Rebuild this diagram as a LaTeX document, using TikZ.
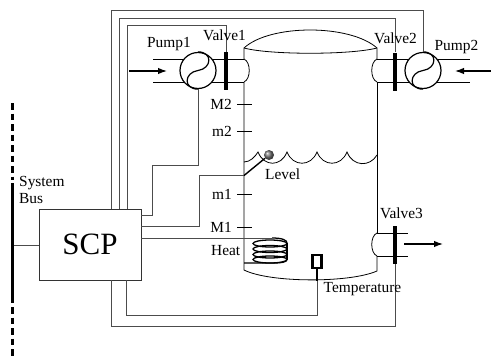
\documentclass[tikz,border=0pt]{standalone}
\usepackage{fontspec}
\setmainfont{Liberation Serif}
\usetikzlibrary{positioning,arrows.meta}

\begin{document}
\begin{tikzpicture}[x=1pt, y=-1pt, font=\fontsize{15.4}{15.4}\selectfont]
	\tikzset{>={Latex[length=9pt,width=6.5pt]}}
	\tikzset{wire/.style={draw=black!70, line width=0.9pt}}
	\tikzset{tube/.style={draw=black, line width=0.8pt}}
	\tikzset{flow/.style={->, draw=black, line width=1.3pt}}
	\tikzset{lbl/.style={inner sep=0pt}}
	\tikzset{pump/.style={circle, draw=black, line width=1.2pt, fill=white, minimum size=36pt, inner sep=0pt}}
	\tikzset{valve/.style={rectangle, fill=black, minimum width=3.5pt, minimum height=38pt, inner sep=0pt}}
	\useasboundingbox (0,0) rectangle (491,356);

	% tank
	\draw[tube] (244,59) -- (244,48) .. controls (270,24) and (350,24) .. (377,48) -- (377,59);
	\draw[tube] (244,48) .. controls (270,55) and (350,55) .. (377,48);
	\draw[tube] (244,82) -- (244,270) .. controls (270,283) and (350,283) .. (377,271) -- (377,256);
	\draw[tube] (377,82) -- (377,233);
	\draw[tube] (244,59) .. controls (251,62) and (251,79) .. (244,82);
	\draw[tube] (377,59) .. controls (370,62) and (370,79) .. (377,82);
	\draw[tube] (377,233) .. controls (370,236) and (370,253) .. (377,256);

	% water
	\draw[tube] (244,162) .. controls (250,162) and (255,157) .. (258,152)
		.. controls (264,167) and (281,167) .. (287,152)
		.. controls (293,167) and (311,167) .. (317,152)
		.. controls (323,167) and (341,167) .. (347,152)
		.. controls (353,167) and (370,167) .. (377,155);

	% pipes
	\draw[tube] (153,59) -- (244,59);
	\draw[tube] (153,82) -- (244,82);
	\draw[tube] (377,59) -- (470,59);
	\draw[tube] (377,82) -- (470,82);
	\draw[tube] (377,233) -- (408,233);
	\draw[tube] (377,256) -- (408,256);

	\node[rectangle, draw=black!80, line width=0.9pt, minimum width=102pt, minimum height=71pt, inner sep=0pt] (scp) at (90,244.5) {\fontsize{31}{31}\selectfont SCP};
	\node[pump] (pump1) at (198,70.5) {};
	\node[pump] (pump2) at (423,70.5) {};
	\node[valve] (valve1) at (226,71) {};
	\node[valve] (valve2) at (395,71.5) {};
	\node[valve] (valve3) at (395,245) {};
	\node[circle, minimum size=10pt, inner sep=0pt, ball color=black!55] (level) at (269,155) {};
	\node[rectangle, draw=black, line width=2.6pt, fill=white, minimum width=9.3pt, minimum height=12.9pt, inner sep=0pt] (sensor) at (317,261.5) {};

	\foreach \p in {pump1,pump2}
		\draw[line width=1.2pt] (\p.north) .. controls ([shift={(15,0)}]\p.north) and ([shift={(14,-2)}]\p.center) .. (\p.center)
			.. controls ([shift={(-14,2)}]\p.center) and ([shift={(-15,0)}]\p.south) .. (\p.south);

	% ports
	\coordinate (scpa) at (111,209);
	\coordinate (scpb) at (119,209);
	\coordinate (scpc) at (127,209);
	\coordinate (scpd) at (141,215);
	\coordinate (scpe) at (141,226);
	\coordinate (scpf) at (141,238);
	\coordinate (scpg) at (126,280);
	\coordinate (scph) at (111,280);
	\coordinate (joint) at (244,175.5);
	\coordinate (coilin) at (272,238);
	\coordinate (coilout) at (244,263);
	\coordinate (bustap) at (13,245.5);

	\draw[wire] (scpa) |- (423,10) -- (pump2.north);
	\draw[wire] (scpb) |- (395,18) -- (valve2.north);
	\draw[wire] (scpc) |- (226,25) -- (valve1.north);
	\draw[wire] (pump1.south) |- (152.5,165.5) |- (scpd);
	\draw[wire] (scpe) -| (199,175.5) -- (joint);
	\draw[wire] (scpf) -- (coilin);
	\draw[wire] (scpg) |- (317,315.5) -- (sensor.south);
	\draw[wire] (scph) |- (395,326) -- (valve3.south);
	\draw[wire] (scp.west |- bustap) -- (bustap);
	\draw[line width=1.4pt] (joint) -- (level);
	\draw[line width=2.8pt] (sensor.south) -- (317,281);

	% coil
	\draw[line width=1.3pt] (coilin) .. controls (282,238) and (287,240) .. (287,243);
	\foreach \y in {243.5,249,254.5,259.5}
		\draw[line width=1.3pt] (270,\y) ellipse (17pt and 3.5pt);
	\draw[line width=1.3pt] (coilout) -- (272,263) .. controls (282,263) and (287,262) .. (287,259.5);
	\draw[line width=1.3pt] (287,243) -- (287,259.5);

	% bus
	\draw[line width=3.8pt] (12.5,183) -- (12.5,302.5);
	\draw[line width=3.8pt, dash pattern=on 6.5pt off 4pt] (12.5,103) -- (12.5,180);
	\draw[line width=3.8pt, dash pattern=on 6.5pt off 4pt] (12.5,307) -- (12.5,356);

	% flow arrows
	\coordinate (in1a) at (129,71);
	\coordinate (in1b) at (167,71);
	\coordinate (in2a) at (491,71);
	\coordinate (in2b) at (455,71);
	\coordinate (out3a) at (404,244);
	\coordinate (out3b) at (443,244);
	\draw[flow] (in1a) -- (in1b);
	\draw[flow] (in2a) -- (in2b);
	\draw[flow] (out3a) -- (out3b);

	\node[lbl] (lpump1) at (169,44) {Pump1};
	\node[lbl] (lvalve1) at (224.5,35) {Valve1};
	\node[lbl] (lvalve2) at (395.5,38) {Valve2};
	\node[lbl] (lpump2) at (456.5,47) {Pump2};
	\node[lbl, anchor=east] (lM2) at (232,104) {M2};
	\node[lbl, anchor=east] (lm2) at (232,131) {m2};
	\node[lbl, anchor=east] (lm1) at (232,194) {m1};
	\node[lbl, anchor=east] (lM1) at (232,227) {M1};
	\node[lbl, anchor=west] (lheat) at (211,251) {Heat};
	\node[lbl, anchor=west] (llevel) at (265,174) {Level};
	\node[lbl, anchor=west] (lsystem) at (19,183) {System};
	\node[lbl, anchor=west] (lbus) at (19,199) {Bus};
	\node[lbl] (lvalve3) at (401.5,213) {Valve3};
	\node[lbl] (ltemp) at (362.5,289) {Temperature};

	% ticks
	\foreach \y in {104,131,194,227}
		\draw[tube] (237,\y) -- (252,\y);
\end{tikzpicture}
\end{document}
